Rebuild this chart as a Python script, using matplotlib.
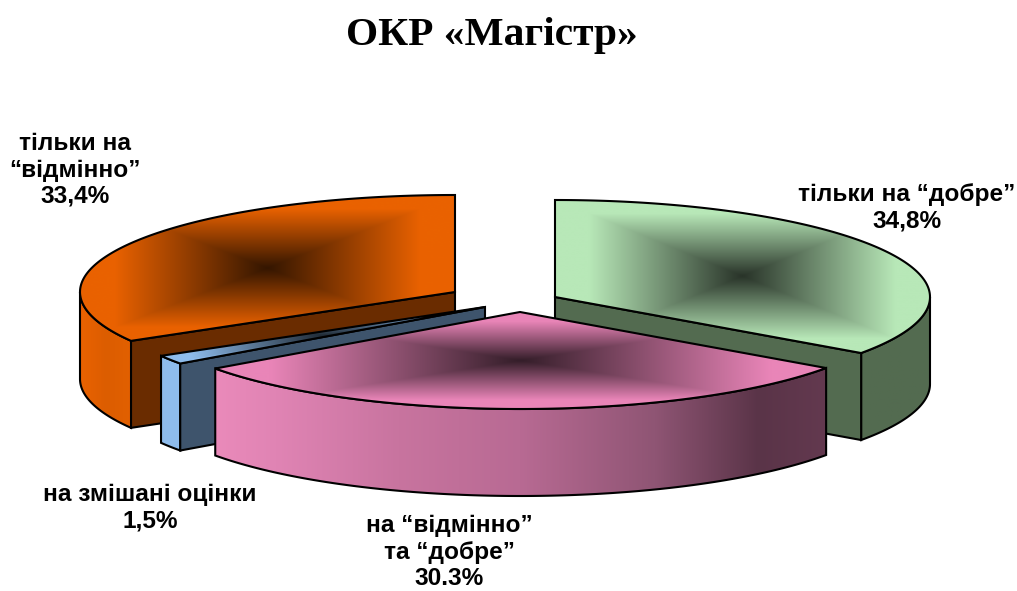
import numpy as np
import matplotlib
matplotlib.use("Agg")
import matplotlib.pyplot as plt
from matplotlib.patches import Polygon
from matplotlib.colors import to_rgb

# clockwise from 12 o'clock
categories = ["тільки на “добре”", "на “відмінно”\nта “добре”", "на змішані оцінки", "тільки на\n“відмінно”"]
values = [34.8, 30.3, 1.5, 33.4]
value_labels = ["34,8%", "30.3%", "1,5%", "33,4%"]

top_colors = ["#b8e8b8", "#e985b8", "#8ebcec", "#ea6200"]
cut_colors = ["#536b50", None, "#3e546c", "#6a2c00"]
side_stops = [
    [(0, "#536b50"), (1, "#536b50")],
    [(0, "#ea8aba"), (0.1, "#e084b4"), (0.3, "#c8749f"), (0.5, "#b86a93"),
     (0.72, "#8f5574"), (0.89, "#5a3448"), (1, "#63394f")],
    [(0, "#8ebcec"), (1, "#8ebcec")],
    [(0, "#ea6200"), (0.5, "#dc5d00"), (1, "#e26000")],
]
# exploded slice centres, pixels
centers = [(555, 297), (520, 312), (485, 307), (455, 292)]
label_pos = [(907, 208), (449, 552), (150, 508), (75, 170)]
RX, RY, DEPTH = 375, 97, 87

fig = plt.figure(figsize=(10.17, 5.91), dpi=100)
ax = fig.add_axes([0, 0, 1, 1])


def rim(c, a0, a1, n=200):
    t = np.radians(np.linspace(a0, a1, n))
    return np.column_stack([c[0] + RX * np.sin(t), c[1] - RY * np.cos(t)])


def paint(poly, rgb, extent):
    im = ax.imshow(rgb, extent=extent, aspect="auto", interpolation="bilinear", zorder=2)
    im.set_clip_path(Polygon(poly, closed=True, transform=ax.transData))
    ax.add_patch(Polygon(poly, closed=True, fill=False, ec="black", lw=1.5, zorder=2))


def draw_top(poly, color):
    x0, y0 = poly.min(axis=0)
    x1, y1 = poly.max(axis=0)
    xs = np.linspace(-1, 1, int(x1 - x0) + 2)
    ys = np.linspace(-1, 1, int(y1 - y0) + 2)
    gx, gy = np.meshgrid(xs, ys)
    g = np.clip(np.maximum(abs(gx), abs(gy)) / 0.82, 0, 1)[..., None]
    c = np.array(to_rgb(color))
    paint(poly, c * 0.22 + (c - c * 0.22) * g, (x0, x1, y1, y0))


def draw_side(poly, stops):
    x0, y0 = poly.min(axis=0)
    x1, y1 = poly.max(axis=0)
    pos = [s[0] for s in stops]
    cols = np.array([to_rgb(s[1]) for s in stops])
    xs = np.linspace(0, 1, int(x1 - x0) + 2)
    row = np.column_stack([np.interp(xs, pos, cols[:, i]) for i in range(3)])
    paint(poly, row[None, :, :], (x0, x1, y1, y0))


ends = np.cumsum(values) / np.sum(values) * 360
starts = np.r_[0, ends[:-1]]

# back slices first, pink one last
for i in [3, 0, 2, 1]:
    c, a0, a1 = centers[i], starts[i], ends[i]
    arc = rim(c, a0, a1)

    # outer wall: only the part of the rim facing the viewer
    w0, w1 = max(a0, 90), min(a1, 270)
    wall = rim(c, w0, w1)
    draw_side(np.vstack([wall, wall[::-1] + [0, DEPTH]]), side_stops[i])

    # visible cut face
    if cut_colors[i]:
        edge = a1 if i == 0 else a0
        p = rim(c, edge, edge, 1)[0]
        quad = np.array([c, p, p + [0, DEPTH], np.array(c) + [0, DEPTH]])
        ax.add_patch(Polygon(quad, closed=True, fc=cut_colors[i], ec="black", lw=1.5, zorder=2))

    draw_top(np.vstack([[c], arc]), top_colors[i])

for cat, val, pos in zip(categories, value_labels, label_pos):
    ax.text(pos[0], pos[1], cat + "\n" + val, ha="center", va="center", family="Liberation Sans",
            weight="bold", fontsize=17.6, linespacing=1.18, color="black", zorder=5)

ax.text(492, 36, "ОКР «Магістр»", ha="center", va="center", family="Liberation Serif",
        weight="bold", fontsize=29.8, color="black", zorder=5)

ax.set_xlim(0, 1017)
ax.set_ylim(591, 0)
ax.axis("off")
fig.savefig("out.png", dpi=100, facecolor="white")
